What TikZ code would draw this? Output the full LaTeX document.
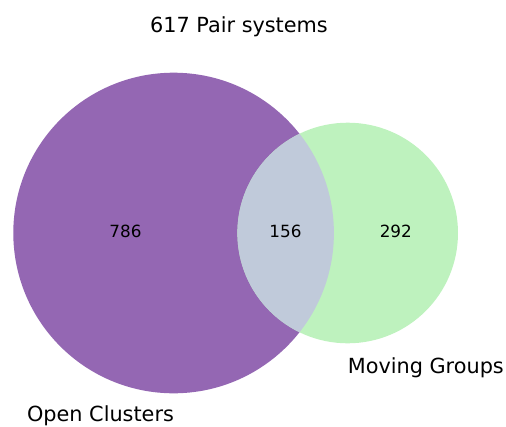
\documentclass[tikz,border=0pt]{standalone}
\usepackage{fontspec}
\setmainfont{DejaVu Sans}
\definecolor{setA}{HTML}{9467B3}
\definecolor{setB}{HTML}{BEF2BE}
\definecolor{setAB}{HTML}{C0CADA}
\tikzset{
  setlabel/.style={anchor=base, inner sep=0pt, font=\fontsize{20.8}{25}\selectfont},
  countlabel/.style={anchor=base, inner sep=0pt, font=\fontsize{16.8}{20}\selectfont},
}
\begin{document}
\begin{tikzpicture}[x=1pt, y=-1pt]
  \useasboundingbox (0,0) rectangle (506,426);
  % the two sets
  \coordinate (ca) at (173.6,233);
  \coordinate (cb) at (347.7,233);
  \fill[setA] (ca) circle[radius=160.3];
  \fill[setB] (cb) circle[radius=110.3];
  % overlap region
  \begin{scope}
    \clip (ca) circle[radius=160.3];
    \fill[setAB] (cb) circle[radius=110.3];
  \end{scope}
  % titles and counts
  \node[setlabel] (title) at (239,32) {617 Pair systems};
  \node[setlabel] (open) at (100.5,421) {Open Clusters};
  \node[setlabel] (moving) at (425.8,373.3) {Moving Groups};
  \node[countlabel] (onlyA) at (125.5,237) {786};
  \node[countlabel] (both) at (285.5,237) {156};
  \node[countlabel] (onlyB) at (395.8,237) {292};
\end{tikzpicture}
\end{document}
